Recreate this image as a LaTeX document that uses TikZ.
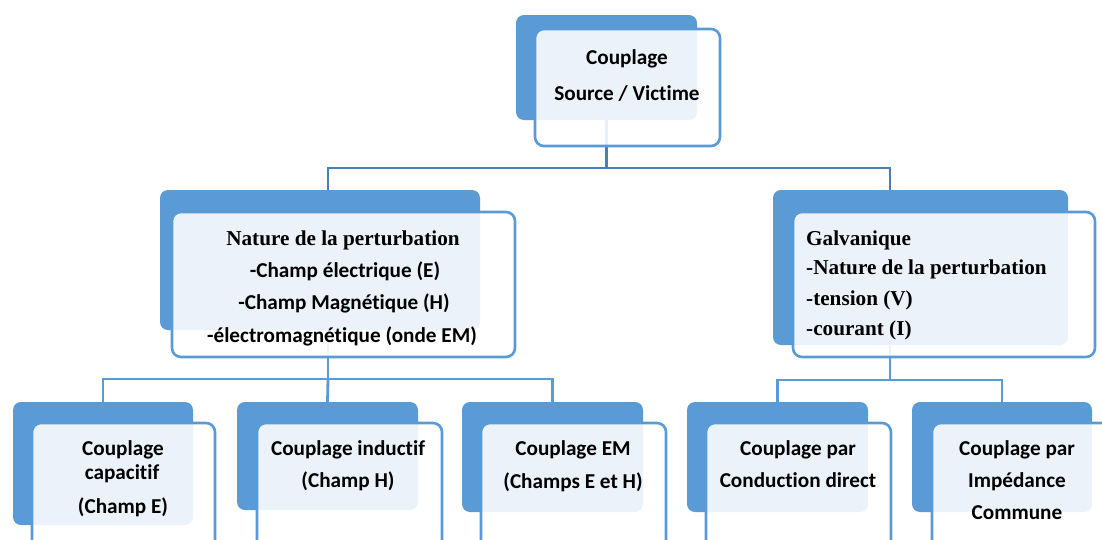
\documentclass[tikz,border=0pt]{standalone}
\usepackage{fontspec}
\setmainfont{Carlito}[Ligatures=NoCommon]
\newfontfamily\serifbold{Liberation Serif}
\definecolor{accent}{HTML}{5B9BD5}
\definecolor{accentdark}{HTML}{4A7EBB}
\begin{document}
\begin{tikzpicture}[x=1pt,y=-1pt,
  backbox/.style={fill=accent, rounded corners=8pt, inner sep=0pt, outer sep=0pt},
  frontbox/.style={draw=accent, line width=2.6pt, fill=white, fill opacity=0.88,
    rounded corners=9pt, inner sep=0pt, outer sep=0pt},
  link/.style={draw=accent, line width=2.8pt},
  toplink/.style={link, draw=accentdark},
  txt/.style={inner sep=0pt, anchor=base, font=\fontsize{21.2}{24}\selectfont\bfseries},
  txtl/.style={txt, anchor=base west},
  serif/.style={font=\fontsize{21.2}{24}\selectfont\serifbold\bfseries}]
\clip (0,0) rectangle (1102,539);
\fill[white] (0,0) rectangle (1102,539);

% back panels
\node[backbox, minimum width=181pt, minimum height=105pt] (topb) at (606.5,67.5) {};
\node[backbox, minimum width=320pt, minimum height=140pt] (lmb) at (320,260) {};
\node[backbox, minimum width=295pt, minimum height=155pt] (rmb) at (920.5,267.5) {};
\node[backbox, minimum width=180pt, minimum height=123pt] (b1b) at (103,463.5) {};
\node[backbox, minimum width=181pt, minimum height=108pt] (b2b) at (327.5,456) {};
\node[backbox, minimum width=181pt, minimum height=110pt] (b3b) at (552.5,457) {};
\node[backbox, minimum width=181pt, minimum height=110pt] (b4b) at (777.5,457) {};
\node[backbox, minimum width=180pt, minimum height=110pt] (b5b) at (1002,457) {};

% bus levels and drop columns
\coordinate (bus0) at (0,168);
\coordinate (bus1) at (0,379);
\coordinate (bus2) at (0,380);
\coordinate (lmx) at (328,0);
\coordinate (rmx) at (890,0);

% connectors
\draw[toplink] (topb.south) -- (topb.south |- bus0);
\draw[toplink] (lmx |- lmb.north) -- (lmx |- bus0) -- (rmx |- bus0) -- (rmx |- rmb.north);
\draw[link] (lmx |- lmb.south) -- (lmx |- bus1);
\draw[link] (b1b.north) -- (b1b.north |- bus1) -- (b3b.north |- bus1) -- (b3b.north);
\draw[link] (lmx |- bus1) -- (b2b.north);
\draw[link] (rmx |- rmb.south) -- (rmx |- bus2);
\draw[link] (b4b.north) -- (b4b.north |- bus2) -- (b5b.north |- bus2) -- (b5b.north);

% front panels
\node[frontbox, minimum width=185pt, minimum height=117pt] (topf) at (627.5,87.5) {};
\node[frontbox, minimum width=343pt, minimum height=145pt] (lmf) at (343.5,284.5) {};
\node[frontbox, minimum width=302pt, minimum height=145pt] (rmf) at (944,284.5) {};
\node[frontbox, minimum width=183pt, minimum height=137pt] (b1f) at (123.5,491.5) {};
\node[frontbox, minimum width=185pt, minimum height=137pt] (b2f) at (349.5,491.5) {};
\node[frontbox, minimum width=185pt, minimum height=137pt] (b3f) at (573.5,491.5) {};
\node[frontbox, minimum width=185pt, minimum height=137pt] (b4f) at (798.5,491.5) {};
\node[frontbox, minimum width=185pt, minimum height=137pt] (b5f) at (1024.5,491.5) {};

% labels
\node[txt] (t0a) at (627,64) {Couplage};
\node[txt] (t0b) at (627,100) {Source / Victime};

\node[txt, serif] (t1a) at (343,245) {Nature de la perturbation};
\node[txt] (t1b) at (345,277) {-Champ électrique (E)};
\node[txt] (t1c) at (344,309) {-Champ Magnétique (H)};
\node[txt] (t1d) at (342,342) {-électromagnétique (onde EM)};

\node[txtl, serif] (t2a) at (806,245) {Galvanique};
\node[txtl, serif] (t2b) at (806,274) {-Nature de la perturbation};
\node[txtl, serif] (t2c) at (806,305) {-tension (V)};
\node[txtl, serif] (t2d) at (806,335) {-courant (I)};

\node[txt] (t3a) at (123,455) {Couplage};
\node[txt] (t3b) at (122,479) {capacitif};
\node[txt] (t3c) at (123,513) {(Champ E)};

\node[txt] (t4a) at (348,455) {Couplage inductif};
\node[txt] (t4b) at (348,487) {(Champ H)};

\node[txt] (t5a) at (573,455) {Couplage EM};
\node[txt] (t5b) at (573,488) {(Champs E et H)};

\node[txt] (t6a) at (798,455) {Couplage par};
\node[txt] (t6b) at (798,487) {Conduction direct};

\node[txt] (t7a) at (1017,455) {Couplage par};
\node[txt] (t7b) at (1017,487) {Impédance};
\node[txt] (t7c) at (1017,519) {Commune};
\end{tikzpicture}
\end{document}
